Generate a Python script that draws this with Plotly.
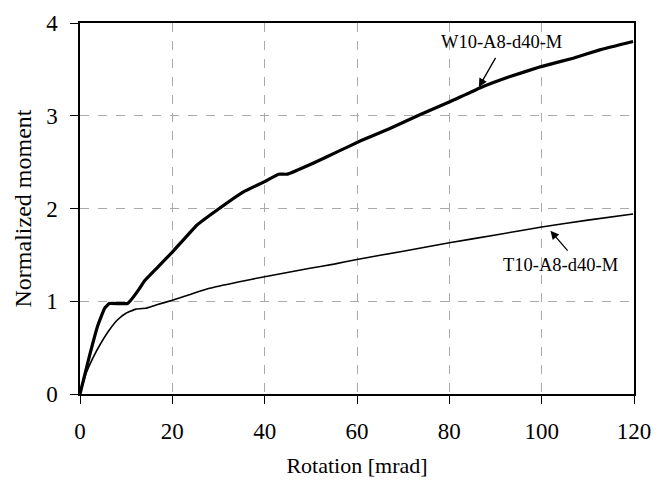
import plotly.graph_objects as go

# W10-A8-d40-M (thick)
w_rot = [0, 2.0, 3.8, 5.3, 6.35, 8.5, 10.3, 11.0, 12.8, 14.0, 16.6, 20.0, 25.3, 28.2, 35.4, 40.0,
         43.0, 44.9, 50.6, 55.7, 60.8, 67.0, 73.6, 80.1, 86.6, 93.0, 99.9, 106.8, 112.6, 119.8]
w_mom = [0, 0.40, 0.73, 0.92, 0.975, 0.975, 0.975, 1.01, 1.13, 1.22, 1.355, 1.53, 1.82, 1.93, 2.18, 2.29,
         2.37, 2.37, 2.49, 2.61, 2.73, 2.86, 3.01, 3.15, 3.30, 3.42, 3.53, 3.62, 3.71, 3.80]

# T10-A8-d40-M (thin)
t_rot = [0, 1.3, 2.75, 4.55, 6.35, 8.15, 9.96, 12.1, 14.3, 15.0, 16.45, 20.0, 23.0, 28.1, 34.0, 40.0, 49.8,
         55.0, 60.0, 70.0, 80.0, 90.0, 100.0, 110.0, 119.8]
t_mom = [0, 0.22, 0.385, 0.55, 0.69, 0.80, 0.87, 0.915, 0.925, 0.935, 0.96, 1.01, 1.06, 1.14, 1.205, 1.265, 1.355,
         1.40, 1.45, 1.54, 1.63, 1.715, 1.80, 1.875, 1.94]

x_ticks = [0, 20, 40, 60, 80, 100, 120]
y_ticks = [0, 1, 2, 3, 4]

FONT = "Liberation Serif, Times New Roman, serif"

fig = go.Figure()
fig.add_trace(go.Scatter(x=t_rot, y=t_mom, mode="lines",
                         line=dict(color="black", width=1.6, shape="spline", smoothing=0.3),
                         showlegend=False))
fig.add_trace(go.Scatter(x=w_rot, y=w_mom, mode="lines",
                         line=dict(color="black", width=3.2, shape="spline", smoothing=0.3),
                         showlegend=False))

# labels with arrows
fig.add_annotation(x=86.4, y=3.31, ax=90.2, ay=3.64, axref="x", ayref="y", xref="x", yref="y",
                   showarrow=True, arrowhead=2, arrowsize=1.3, arrowwidth=1.3, arrowcolor="black", text="")
fig.add_annotation(x=91.3, y=3.79, xref="x", yref="y", text="W10-A8-d40-M", showarrow=False,
                   font=dict(family=FONT, size=18.5, color="black"))
fig.add_annotation(x=101.9, y=1.76, ax=105.9, ay=1.53, axref="x", ayref="y", xref="x", yref="y",
                   showarrow=True, arrowhead=2, arrowsize=1.3, arrowwidth=1.3, arrowcolor="black", text="")
fig.add_annotation(x=104.0, y=1.39, xref="x", yref="y", text="T10-A8-d40-M", showarrow=False,
                   font=dict(family=FONT, size=18.5, color="black"))

fig.update_layout(
    width=656, height=491,
    margin=dict(l=80, r=22, t=23, b=97, autoexpand=False),
    paper_bgcolor="white", plot_bgcolor="white",
    font=dict(family=FONT, size=22, color="black"),
    xaxis=dict(range=[0, 120], tickvals=x_ticks, ticks="outside", ticklen=8, tickcolor="black",
               showline=True, linecolor="black", linewidth=1.5, mirror=True, automargin=False,
               showgrid=True, gridcolor="#aaaaaa", griddash="dash", gridwidth=1, zeroline=False,
               ticklabelstandoff=8,
               title=dict(text="Rotation [mrad]", standoff=14, font=dict(size=22)),
               tickfont=dict(size=23)),
    yaxis=dict(range=[0, 4], tickvals=y_ticks, ticks="outside", ticklen=8, tickcolor="black",
               showline=True, linecolor="black", linewidth=1.5, mirror=True, automargin=False,
               showgrid=True, gridcolor="#aaaaaa", griddash="dash", gridwidth=1, zeroline=False,
               ticklabelstandoff=8,
               title=dict(text="Normalized moment", standoff=8, font=dict(size=24)),
               tickfont=dict(size=23)),
)

# remove the browser's default 8px body margin so the 656x491 figure fills the window exactly
fig.write_html("out.html", config={"displayModeBar": False},
               post_script="document.body.style.margin='0';document.body.style.overflow='hidden';")
